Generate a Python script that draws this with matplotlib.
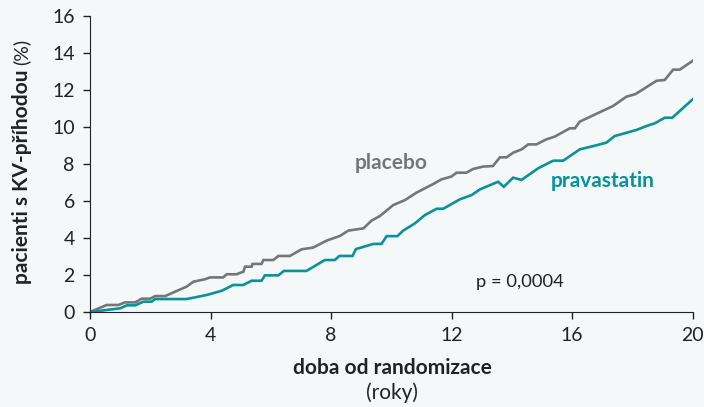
import matplotlib
matplotlib.use("Agg")
import matplotlib.pyplot as plt

plt.rcParams['font.family'] = ['Lato', 'DejaVu Sans']

# years since randomisation / % of patients with CV event
placebo_t = [0, 0.55, 0.94, 1.16, 1.5, 1.71, 1.99, 2.16, 2.49, 3.2, 3.43, 3.81, 3.98, 4.42,
             4.53, 4.86, 5.09, 5.14, 5.36, 5.39, 5.69, 5.75, 6.08, 6.25, 6.63, 7.02, 7.4,
             7.85, 8.29, 8.57, 9.07, 9.34, 9.62, 10.06, 10.45, 10.83, 11.39, 11.66, 11.99,
             12.16, 12.49, 12.71, 13.04, 13.37, 13.6, 13.82, 14.04, 14.32, 14.54, 14.81,
             15.14, 15.42, 15.92, 16.09, 16.25, 17.36, 17.8, 18.1, 18.8, 19.07, 19.35,
             19.57, 20]
placebo_y = [0, 0.38, 0.38, 0.52, 0.52, 0.72, 0.72, 0.86, 0.86, 1.37, 1.64, 1.77, 1.87, 1.87,
             2.04, 2.04, 2.18, 2.45, 2.45, 2.6, 2.6, 2.81, 2.81, 3.03, 3.03, 3.39, 3.48,
             3.86, 4.11, 4.4, 4.52, 4.94, 5.19, 5.78, 6.05, 6.45, 6.92, 7.17, 7.32,
             7.53, 7.53, 7.73, 7.86, 7.89, 8.36, 8.36, 8.61, 8.79, 9.06, 9.06,
             9.33, 9.48, 9.93, 9.93, 10.29, 11.14, 11.64, 11.78, 12.5, 12.54, 13.1,
             13.1, 13.58]

prava_t = [0, 0.5, 1, 1.22, 1.5, 1.77, 2.04, 2.16, 3.2, 3.87, 4.37, 4.75, 5.08, 5.36, 5.69,
           5.8, 6.25, 6.43, 7.18, 7.79, 8.12, 8.27, 8.71, 8.82, 9.4, 9.67, 9.84, 10.2,
           10.39, 10.78, 11.11, 11.5, 11.72, 12.27, 12.66, 12.94, 13.54, 13.73, 14.04,
           14.32, 14.87, 15.37, 15.7, 16.25, 16.7, 17.13, 17.41, 18.13, 18.46, 18.74,
           19.07, 19.32, 20]
prava_y = [0, 0.1, 0.2, 0.36, 0.36, 0.56, 0.56, 0.7, 0.7, 0.92, 1.15, 1.46, 1.46, 1.69, 1.69,
           1.98, 1.98, 2.22, 2.22, 2.81, 2.81, 3.03, 3.03, 3.4, 3.68, 3.68, 4.1, 4.1,
           4.4, 4.79, 5.24, 5.58, 5.58, 6.09, 6.32, 6.63, 7.04, 6.77, 7.26,
           7.14, 7.77, 8.18, 8.18, 8.79, 8.97, 9.15, 9.51, 9.84, 10.05, 10.2,
           10.5, 10.5, 11.5]

bg = '#f4f8f8'
grey = '#767676'
teal = '#0a929a'

fig = plt.figure(figsize=(7.04, 4.07), dpi=100, facecolor=bg)
ax = fig.add_axes([0.128, 0.2334, 0.856, 0.7273], facecolor=bg)

ax.plot(placebo_t, placebo_y, color=grey, lw=1.9, solid_joinstyle='miter')
ax.plot(prava_t, prava_y, color=teal, lw=1.9, solid_joinstyle='miter')

ax.set_xlim(0, 20)
ax.set_ylim(0, 16)
ax.set_xticks([0, 4, 8, 12, 16, 20])
ax.set_yticks(range(0, 17, 2))
ax.tick_params(labelsize=14, length=5, width=1, color='#222222', pad=6, labelcolor='#222222')
for s in ['top', 'right']:
    ax.spines[s].set_visible(False)
for s in ['left', 'bottom']:
    ax.spines[s].set_color('#222222')

ax.text(10.0, 8.05, 'placebo', color=grey, fontsize=15, fontweight='bold', ha='center', va='center')
ax.text(17.0, 7.08, 'pravastatin', color=teal, fontsize=15, fontweight='bold', ha='center', va='center')
ax.text(14.26, 1.6, 'p = 0,0004', color='#222222', fontsize=13.2, ha='center', va='center')

fig.text(0.557, 0.096, 'doba od randomizace', fontsize=15, fontweight='bold', ha='center', va='center', color='#222222')
fig.text(0.557, 0.034, '(roky)', fontsize=15, ha='center', va='center', color='#222222')

# y label: bold part + normal "(%)"
ylab = fig.text(0.031, 0.302, 'pacienti s KV-příhodou', fontsize=15, fontweight='bold',
                rotation=90, rotation_mode='anchor', ha='left', va='center', color='#222222')
fig.canvas.draw()
bb = ylab.get_window_extent().transformed(fig.transFigure.inverted())
fig.text(0.031, bb.y1 + 0.012, '(%)', fontsize=14, rotation=90, rotation_mode='anchor',
         ha='left', va='center', color='#222222')

fig.savefig('out.png', dpi=100, facecolor=bg)
